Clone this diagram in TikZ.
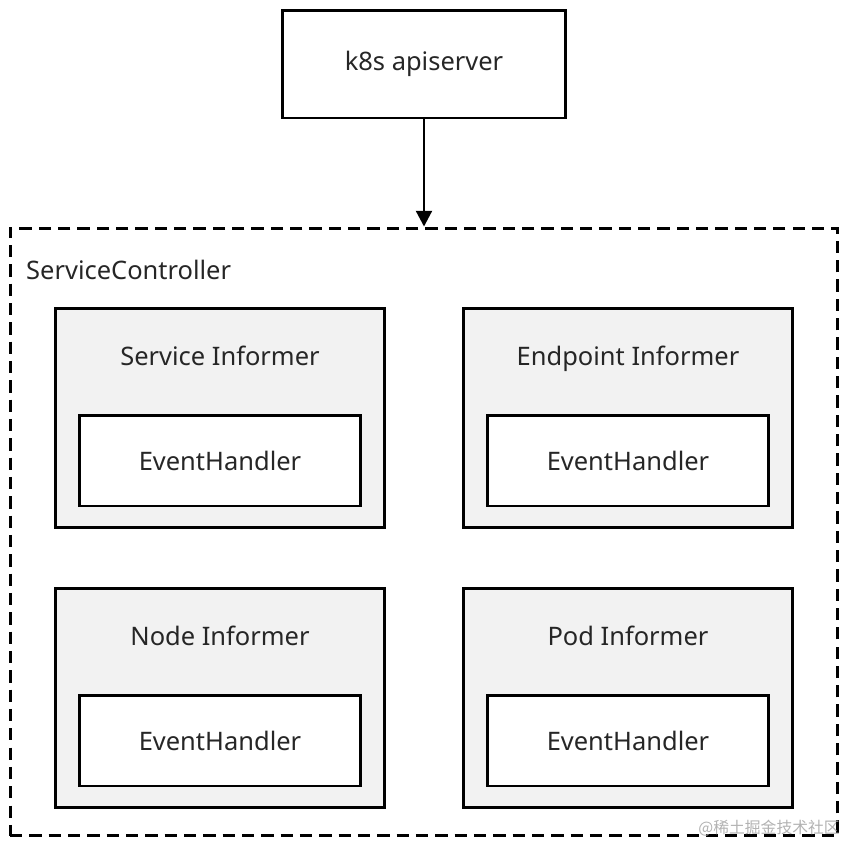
\documentclass[tikz,border=0pt]{standalone}
\usepackage{fontspec}
\setmainfont{Noto Sans}
\newfontfamily\cjk{Noto Sans CJK SC}
\usetikzlibrary{positioning,arrows.meta}
\definecolor{boxgray}{HTML}{F2F2F2}
\tikzset{
  box/.style={draw, line width=1.7pt, minimum width=#1},
  informer/.style={draw, line width=1.7pt, fill=boxgray, minimum width=6.6cm, minimum height=4.4cm},
  handler/.style={draw, line width=1.7pt, fill=white, minimum width=5.64cm, minimum height=1.82cm},
  lbl/.style={font=\fontsize{14.5}{17}\selectfont, text=black!85}
}
\begin{document}
\begin{tikzpicture}[x=0.02cm, y=-0.02cm]
        \useasboundingbox (0,0) rectangle (850,846);

        % apiserver and controller frame
        \node[box, minimum width=5.68cm, minimum height=2.16cm, lbl] (api) at (424,64) {k8s apiserver};
        \node[draw, dash pattern=on 7pt off 4pt, line width=1.7pt, minimum width=16.56cm, minimum height=12.16cm] (ctrl) at (424,532) {};
        \node[lbl, anchor=west] (ctrltitle) at (20,270) {ServiceController};
        \draw[line width=1.7pt, -{Triangle[length=9pt,width=9pt]}] (api.south) -- (ctrl.north);

        % informers
        \node[informer] (svc) at (220,418) {};
        \node[informer] (ep) at (628,418) {};
        \node[informer] (nd) at (220,698) {};
        \node[informer] (pod) at (628,698) {};
        \foreach \n/\t in {svc/Service Informer, ep/Endpoint Informer, nd/Node Informer, pod/Pod Informer}{
          \node[lbl, anchor=base] (\n title) at ([yshift=-1.18cm]\n.north) {\t};
          \node[handler, lbl] (\n handler) at ([yshift=-3.08cm]\n.north) {EventHandler};
        }

        % watermark
        \node[text=gray!60, font=\cjk\fontsize{9}{10}\selectfont, anchor=east] (mark) at (846,828) {@稀土掘金技术社区};
\end{tikzpicture}
\end{document}
